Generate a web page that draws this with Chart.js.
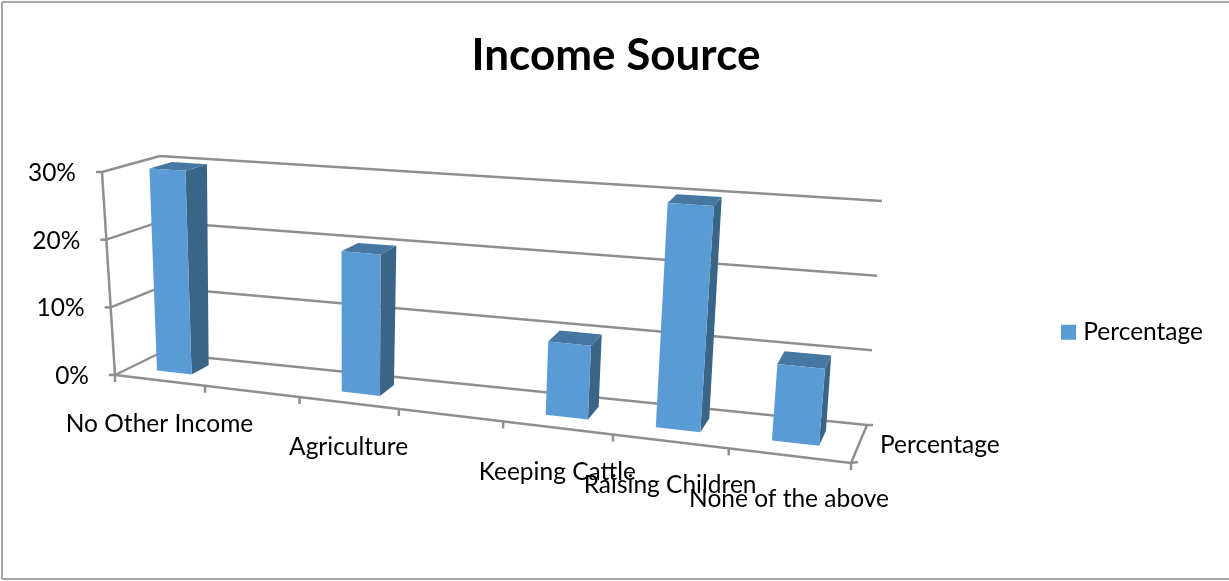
<!DOCTYPE html>
<html>
<head>
<meta charset="utf-8">
<title>Income Source</title>
<script src="https://cdn.jsdelivr.net/npm/chart.js@4"></script>
<style>
    body { margin: 0; background: #fff; }
    canvas { display: block; }
</style>
</head>
<body>
<canvas id="myChart" width="1229" height="581"></canvas>
<script>
const categories = ['No Other Income', '', 'Agriculture', '', 'Keeping Cattle', 'Raising Children', 'None of the above'];
const percentValues = [30, null, 20, null, 10, 30, 10];
const yTickValues = [0, 10, 20, 30];
const seriesName = 'Percentage';

const fontFamily = 'Lato';
const gridColor = '#8f8f8f';
const frontColor = '#5b9bd5';
const sideColor = '#3a6587';
const topColor = '#4577a2';

// screen corners of the 3D box, named front/back + bottom/top + left/right
const box = {
    fbl: [115, 375], fbr: [851, 463], ftl: [102, 172], ftr: [873, 225],
    bbl: [160, 353], bbr: [867, 425], btl: [160, 156], btr: [882, 201]
};
const perspective = 1.195; // categories get wider to the right
const barDepth = [0.34, 0.74];

function mix(a, b, t) {
    return [a[0] + (b[0] - a[0]) * t, a[1] + (b[1] - a[1]) * t];
}

// u, v, d all 0..1: along the category axis, up the value axis, into the chart
function project(u, v, d) {
    const s = u / (u + perspective * (1 - u));
    const front = mix(mix(box.fbl, box.fbr, s), mix(box.ftl, box.ftr, s), v);
    const back = mix(mix(box.bbl, box.bbr, s), mix(box.btl, box.btr, s), v);
    return mix(front, back, d);
}

function line(ctx, a, b) {
    ctx.beginPath();
    ctx.moveTo(a[0], a[1]);
    ctx.lineTo(b[0], b[1]);
    ctx.stroke();
}

function face(ctx, points, color) {
    ctx.fillStyle = color;
    ctx.beginPath();
    points.forEach(function(p, i) {
        if (i === 0) ctx.moveTo(p[0], p[1]);
        else ctx.lineTo(p[0], p[1]);
    });
    ctx.closePath();
    ctx.fill();
}

const perspectivePlugin = {
    id: 'perspective',
    afterLayout(chart) {
        // the legend sits in the empty space right of the plot
        const legend = chart.legend;
        const w = legend.width, h = legend.height;
        legend.left = 1056;
        legend.right = legend.left + w;
        legend.top = 310;
        legend.bottom = legend.top + h;
        // title is centred on the whole picture, not on the plot
        chart.titleBlock.left = 0;
        chart.titleBlock.right = 1232;
    },
    beforeDraw(chart) {
        const ctx = chart.ctx;
        ctx.save();
        ctx.strokeStyle = '#a6a6a6';
        ctx.lineWidth = 2;
        line(ctx, [2, 2], [1229, 2]);
        line(ctx, [2, 2], [2, 579]);
        line(ctx, [2, 579], [1229, 579]);
        ctx.restore();
    },
    beforeDatasetsDraw(chart) {
        const ctx = chart.ctx;
        const y = chart.scales.y;
        ctx.save();
        ctx.strokeStyle = gridColor;
        ctx.lineWidth = 2.5;
        y.ticks.forEach(function(t) {
            const v = (y.bottom - y.getPixelForValue(t.value)) / y.height;
            const corner = project(0, v, 1);
            const start = project(0, v, 0);
            line(ctx, [start[0] - 6, start[1]], start);
            line(ctx, start, corner);
            line(ctx, corner, project(1, v, 1));
        });
        line(ctx, project(0, 0, 0), project(0, 1, 0));
        line(ctx, project(0, 0, 0), project(1, 0, 0));
        line(ctx, project(1, 0, 0), project(1, 0, 1));
        const right = project(1, 0, 1);
        line(ctx, right, [right[0] + 6, right[1]]);
        const corner = project(1, 0, 0);
        line(ctx, corner, [corner[0] + 7, corner[1] - 1]);
        for (let i = 0; i <= categories.length; i++) {
            const p = project(i / categories.length, 0, 0);
            line(ctx, p, [p[0], p[1] + 7]);
        }
        ctx.restore();
    },
    beforeDatasetDraw(chart, args) {
        const ctx = chart.ctx;
        const x = chart.scales.x;
        const y = chart.scales.y;
        const d0 = barDepth[0], d1 = barDepth[1];
        args.meta.data.forEach(function(bar, i) {
            if (percentValues[i] === null) return;
            const p = bar.getProps(['x', 'y', 'width']);
            const uL = (p.x - p.width / 2 - x.left) / x.width;
            const uR = (p.x + p.width / 2 - x.left) / x.width;
            const v = (y.bottom - p.y) / y.height;
            face(ctx, [project(uR, 0, d0), project(uR, 0, d1), project(uR, v, d1), project(uR, v, d0)], sideColor);
            face(ctx, [project(uL, v, d0), project(uR, v, d0), project(uR, v, d1), project(uL, v, d1)], topColor);
            face(ctx, [project(uL, 0, d0), project(uR, 0, d0), project(uR, v, d0), project(uL, v, d0)], frontColor);
        });
        return false;
    },
    afterDraw(chart) {
        const ctx = chart.ctx;
        const x = chart.scales.x;
        const y = chart.scales.y;
        ctx.save();
        ctx.fillStyle = '#000';
        ctx.font = '24.5px ' + fontFamily;
        ctx.textBaseline = 'middle';

        ctx.textAlign = 'right';
        y.ticks.forEach(function(t) {
            const v = (y.bottom - y.getPixelForValue(t.value)) / y.height;
            const p = project(0, v, 0);
            ctx.fillText(t.label, p[0] - 26, p[1] + 1);
        });

        ctx.textAlign = 'center';
        categories.forEach(function(name, i) {
            if (!name) return;
            const u = (x.getPixelForTick(i) - x.left) / x.width;
            const p = project(u, 0, 0);
            ctx.fillText(name, p[0], p[1] + 44);
        });

        // depth axis has the one series name on it
        const depth = project(1, 0, 0.5);
        ctx.textAlign = 'left';
        ctx.fillText(seriesName, depth[0] + 21, depth[1] + 1);
        ctx.restore();
    }
};

const chartSettings = {
    type: 'bar',
    data: {
        labels: categories,
        datasets: [
            {
                label: seriesName,
                data: percentValues,
                backgroundColor: frontColor,
                // only the legend swatch uses the border: small box + thick stroke keeps the text close
                borderColor: frontColor,
                borderWidth: 10,
                categoryPercentage: 1,
                barPercentage: 0.39
            }
        ]
    },
    plugins: [perspectivePlugin],
    options: {
        responsive: false,
        animation: false,
        layout: {
            padding: { top: 0, left: 0, right: 378, bottom: 206 }
        },
        plugins: {
            tooltip: { enabled: false },
            title: {
                display: true,
                text: 'Income Source',
                color: '#000',
                font: { size: 44, family: fontFamily, weight: 'bold' },
                padding: { top: 29, bottom: 90 }
            },
            legend: {
                position: 'chartArea',
                align: 'start',
                labels: {
                    boxWidth: 5,
                    boxHeight: 5,
                    color: '#000',
                    font: { size: 24.5, family: fontFamily }
                }
            }
        },
        scales: {
            x: {
                grid: { display: false },
                border: { display: false },
                ticks: { display: false, autoSkip: false }
            },
            y: {
                min: 0,
                max: 30,
                afterBuildTicks: function(scale) {
                    scale.ticks = yTickValues.map(function(v) { return { value: v }; });
                },
                afterFit: function(scale) { scale.width = 115; },
                grid: { display: false },
                border: { display: false },
                ticks: {
                    display: false,
                    callback: function(value) { return value + '%'; }
                }
            }
        }
    }
};

window.onload = function() {
    const ctx = document.getElementById('myChart').getContext('2d');
    const myChart = new Chart(ctx, chartSettings);
    console.log(myChart.chartArea);
};
</script>
</body>
</html>
